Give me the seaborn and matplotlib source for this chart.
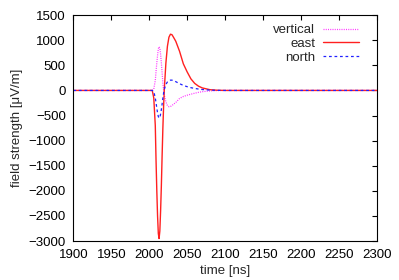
import pandas as pd
import matplotlib
matplotlib.use("Agg")
import matplotlib.pyplot as plt
import seaborn as sns

# --- DATA ---
time_ns = [1900, 2000, 2004, 2006, 2008, 2009, 2010, 2011, 2012, 2013, 2014, 2015,
           2016, 2017, 2018, 2019, 2020, 2022, 2024, 2026, 2028, 2030, 2032, 2035,
           2040, 2045, 2050, 2055, 2060, 2065, 2070, 2080, 2090, 2100, 2300]

vertical = [0, 0, 0, 30, 200, 380, 550, 700, 830, 870, 840, 720,
            550, 350, 150, 0, -100, -230, -300, -325, -320, -300, -275, -240,
            -160, -120, -95, -75, -55, -38, -25, -10, -3, 0, 0]

east = [0, 0, 0, -150, -700, -1400, -2000, -2500, -2850, -2950, -2800, -2400,
        -1900, -1300, -750, -300, 50, 550, 880, 1060, 1120, 1110, 1060, 980,
        780, 530, 370, 230, 140, 85, 50, 15, 4, 0, 0]

north = [0, 0, 0, -20, -150, -250, -350, -450, -520, -550, -540, -470,
         -380, -270, -150, -50, 30, 120, 170, 195, 205, 205, 195, 175,
         135, 100, 75, 55, 40, 28, 18, 7, 2, 0, 0]

x_ticks = [1900, 1950, 2000, 2050, 2100, 2150, 2200, 2250, 2300]
y_ticks = [-3000, -2500, -2000, -1500, -1000, -500, 0, 500, 1000, 1500]

df = pd.DataFrame({"time": time_ns, "vertical": vertical, "east": east, "north": north})

# --- STYLE ---
sns.set_theme(style="white")
plt.rcParams['font.family'] = ['Liberation Sans', 'DejaVu Sans']
fs = 9.5

fig = plt.figure(figsize=(3.99, 2.80), dpi=100)
ax = fig.add_axes([0.184, 0.139, 0.760, 0.807])

sns.lineplot(data=df, x="time", y="vertical", ax=ax, color="#ff33ff",
             linestyle=(0, (0.8, 1.0)), linewidth=0.9, label="vertical")
sns.lineplot(data=df, x="time", y="east", ax=ax, color="#ff2020",
             linestyle="-", linewidth=1.0, label="east")
sns.lineplot(data=df, x="time", y="north", ax=ax, color="#2020ff",
             linestyle=(0, (2.2, 2.2)), linewidth=0.9, label="north")

ax.set_xlim(1900, 2300)
ax.set_ylim(-3000, 1500)
ax.set_xticks(x_ticks)
ax.set_yticks(y_ticks)
ax.tick_params(direction="in", length=3.5, width=0.8, top=True, right=True,
               labelsize=fs, colors="black", pad=5.5)
for s in ax.spines.values():
    s.set_color("black")
    s.set_linewidth(0.8)

ax.set_xlabel("time [ns]", fontsize=fs, labelpad=3)
ax.set_ylabel("field strength [\u03bcV/m]", fontsize=fs, labelpad=4)

leg = ax.legend(loc="upper right", frameon=False, markerfirst=False,
                handlelength=2.8, fontsize=fs, labelspacing=0.12,
                borderaxespad=0.0, borderpad=0.5, handletextpad=0.55,
                bbox_to_anchor=(0.965, 0.99))

plt.savefig("out.png", dpi=100)
